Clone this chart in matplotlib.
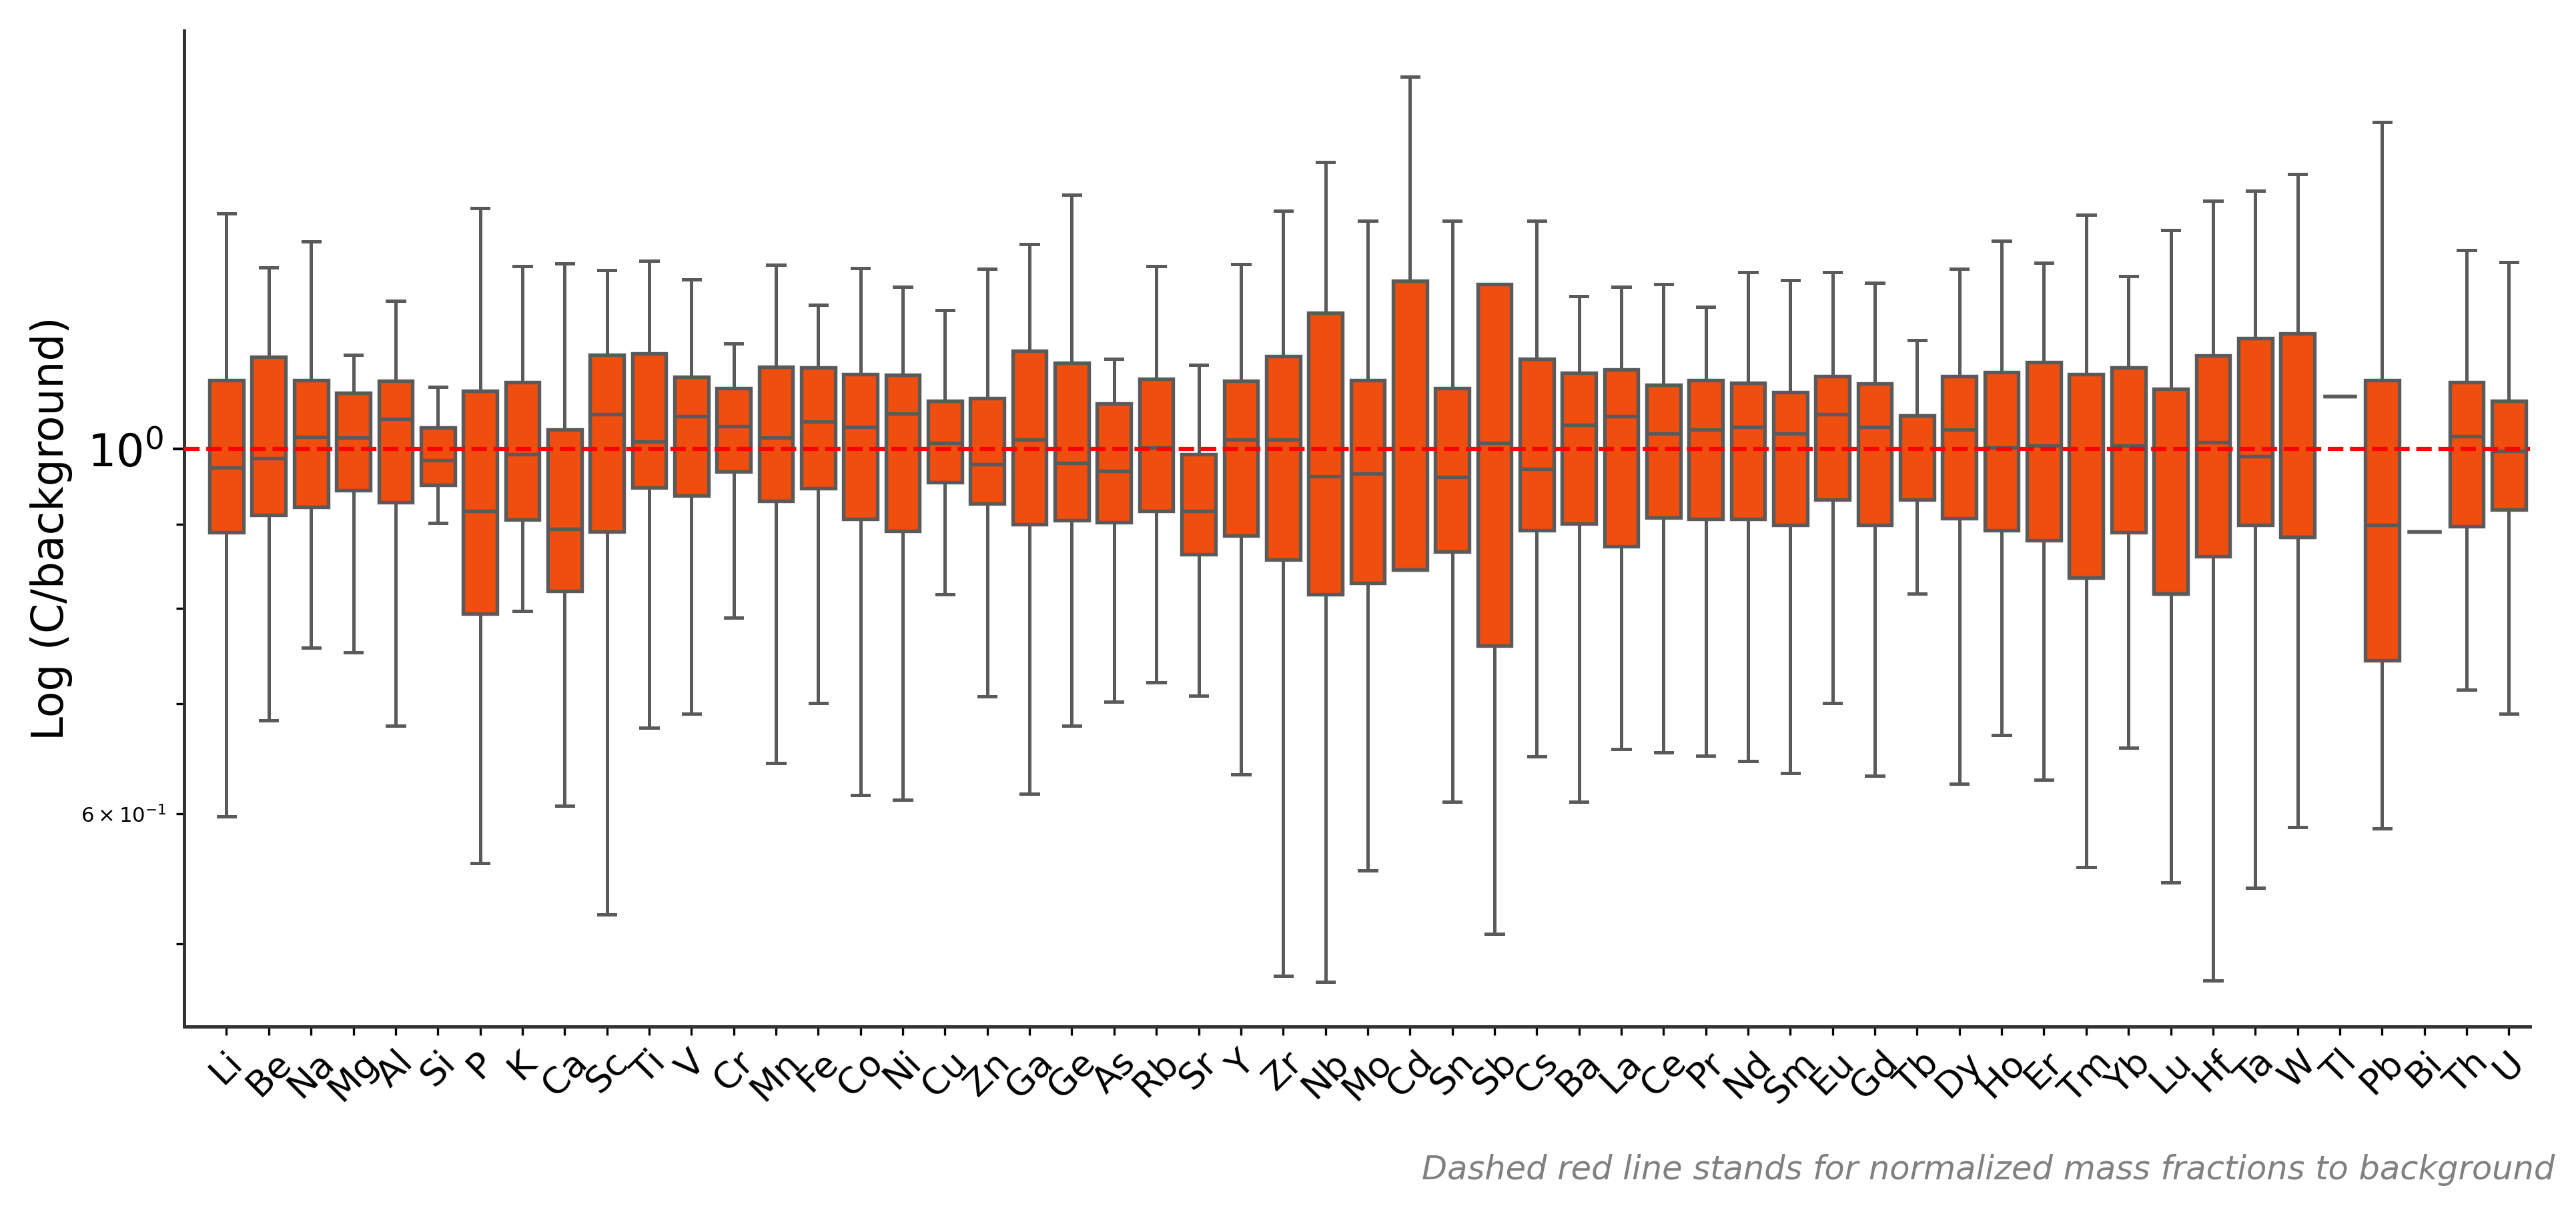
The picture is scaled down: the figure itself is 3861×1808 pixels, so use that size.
import matplotlib
matplotlib.use("Agg")
import matplotlib.pyplot as plt

# element order along the x axis
elements = ["Li", "Be", "Na", "Mg", "Al", "Si", "P", "K", "Ca", "Sc", "Ti", "V", "Cr",
            "Mn", "Fe", "Co", "Ni", "Cu", "Zn", "Ga", "Ge", "As", "Rb", "Sr", "Y", "Zr",
            "Nb", "Mo", "Cd", "Sn", "Sb", "Cs", "Ba", "La", "Ce", "Pr", "Nd", "Sm", "Eu",
            "Gd", "Tb", "Dy", "Ho", "Er", "Tm", "Yb", "Lu", "Hf", "Ta", "W", "Tl", "Pb",
            "Bi", "Th", "U"]

# box statistics (C/background)
whis_low = [0.598, 0.684, 0.757, 0.752, 0.679, 0.902, 0.560, 0.797, 0.607, 0.521, 0.677,
            0.690, 0.790, 0.644, 0.701, 0.616, 0.612, 0.816, 0.707, 0.617, 0.679, 0.702,
            0.721, 0.708, 0.634, 0.478, 0.474, 0.554, 0.845, 0.610, 0.507, 0.650, 0.610,
            0.657, 0.654, 0.651, 0.646, 0.635, 0.701, 0.633, 0.817, 0.626, 0.670, 0.629,
            0.557, 0.658, 0.545, 0.475, 0.541, 0.589, 1.077, 0.588, 0.891, 0.714, 0.690]
q1 = [0.890, 0.912, 0.922, 0.944, 0.928, 0.951, 0.794, 0.906, 0.820, 0.891, 0.948,
      0.937, 0.969, 0.930, 0.947, 0.907, 0.892, 0.955, 0.927, 0.900, 0.905, 0.903,
      0.917, 0.863, 0.886, 0.857, 0.816, 0.829, 0.845, 0.866, 0.759, 0.893, 0.901,
      0.873, 0.909, 0.907, 0.907, 0.899, 0.932, 0.899, 0.932, 0.908, 0.893, 0.880,
      0.835, 0.890, 0.817, 0.861, 0.899, 0.884, 1.077, 0.744, 0.891, 0.898, 0.919]
median = [0.975, 0.987, 1.017, 1.016, 1.043, 0.985, 0.917, 0.993, 0.894, 1.050, 1.011,
          1.047, 1.033, 1.016, 1.040, 1.032, 1.051, 1.009, 0.979, 1.014, 0.981, 0.970,
          1.002, 0.917, 1.014, 1.014, 0.963, 0.966, 0.845, 0.962, 1.009, 0.973, 1.035,
          1.047, 1.022, 1.028, 1.032, 1.022, 1.050, 1.032, 1.048, 1.028, 1.002, 1.005,
          0.835, 1.005, 0.817, 1.010, 0.990, 0.884, 1.077, 0.899, 0.891, 1.018, 0.998]
q3 = [1.102, 1.138, 1.102, 1.082, 1.101, 1.031, 1.085, 1.098, 1.028, 1.141, 1.144,
      1.107, 1.089, 1.122, 1.121, 1.111, 1.110, 1.070, 1.074, 1.148, 1.129, 1.066,
      1.104, 0.993, 1.101, 1.139, 1.211, 1.102, 1.266, 1.089, 1.260, 1.135, 1.113,
      1.118, 1.094, 1.102, 1.097, 1.083, 1.108, 1.096, 1.048, 1.108, 1.114, 1.130,
      1.111, 1.121, 1.088, 1.140, 1.168, 1.176, 1.077, 1.102, 0.891, 1.098, 1.070]
whis_high = [1.392, 1.290, 1.338, 1.141, 1.231, 1.091, 1.402, 1.293, 1.297, 1.285, 1.302,
             1.269, 1.160, 1.295, 1.224, 1.289, 1.255, 1.215, 1.288, 1.333, 1.429, 1.135,
             1.292, 1.125, 1.296, 1.397, 1.495, 1.377, 1.686, 1.377, 1.260, 1.377, 1.239,
             1.255, 1.260, 1.221, 1.282, 1.267, 1.282, 1.263, 1.165, 1.288, 1.339, 1.298,
             1.389, 1.275, 1.359, 1.417, 1.436, 1.470, 1.077, 1.581, 0.891, 1.322, 1.300]

box_color = "#F04E0E"
line_color = "#5a5a5a"

stats = []
for i, name in enumerate(elements):
    stats.append({"label": name, "whislo": whis_low[i], "q1": q1[i], "med": median[i],
                  "q3": q3[i], "whishi": whis_high[i]})

fig = plt.figure(figsize=(12.873, 6.027), dpi=300)
ax = fig.add_axes([0.0715, 0.1488, 0.9104, 0.8258])

ax.bxp(stats, positions=range(len(elements)), widths=0.8, showfliers=False,
       patch_artist=True,
       boxprops=dict(facecolor=box_color, edgecolor=line_color, linewidth=1.3),
       medianprops=dict(color=line_color, linewidth=1.3),
       whiskerprops=dict(color=line_color, linewidth=1.2),
       capprops=dict(color=line_color, linewidth=1.2),
       capwidths=0.4)

ax.set_yscale("log")
ax.axhline(1.0, color="red", linestyle="--", linewidth=1.5, zorder=5)

ax.set_xlim(-1.0, len(elements) - 0.5)
ax.set_ylim(0.4453, 1.798)
ax.set_xticks(range(len(elements)))
ax.set_xticklabels(elements, rotation=45, fontsize=13)

ax.tick_params(axis="y", which="major", labelsize=16, length=4, width=1)
ax.tick_params(axis="y", which="minor", labelsize=7.4, length=3, width=0.8)
ax.tick_params(axis="x", length=3, width=0.8)

ax.set_ylabel("Log (C/background)", fontsize=15.5)
ax.yaxis.set_label_coords(-0.0475, 0.5)

for side in ["top", "right"]:
    ax.spines[side].set_visible(False)
for side in ["left", "bottom"]:
    ax.spines[side].set_color("#333333")
    ax.spines[side].set_linewidth(1.2)

fig.text(0.9915, 0.03, "Dashed red line stands for normalized mass fractions to background",
         ha="right", va="center", style="italic", color="grey", fontsize=11.9)

fig.savefig("out.png", dpi=300)
